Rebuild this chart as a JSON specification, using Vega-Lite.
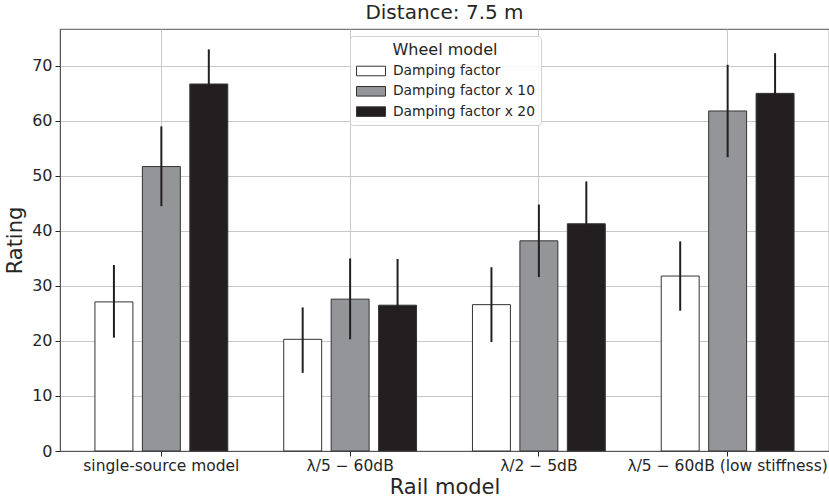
{
  "$schema": "https://vega.github.io/schema/vega-lite/v6.json",
  "width": 769,
  "height": 422,
  "autosize": {"type": "none"},
  "padding": {"left": 60, "top": 29, "right": 0, "bottom": 48},
  "config": {
    "font": "DejaVu Sans",
    "view": {"stroke": "#777777", "strokeWidth": 1.2},
    "axis": {"labelColor": "#262626", "titleColor": "#262626", "tickColor": "#262626", "domainColor": "#555555", "gridColor": "#c8c8c8", "gridWidth": 1, "titleFontWeight": "normal"}
  },
  "title": {"text": "Distance: 7.5 m", "fontSize": 20, "fontWeight": "normal", "color": "#262626", "anchor": "middle", "offset": 6},
  "data": {
    "values": [
      {"rail": "single-source model", "wheel": "Damping factor", "rating": 27.1, "lo": 20.6, "hi": 33.8},
      {"rail": "single-source model", "wheel": "Damping factor x 10", "rating": 51.7, "lo": 44.5, "hi": 59.0},
      {"rail": "single-source model", "wheel": "Damping factor x 20", "rating": 66.7, "lo": 60.4, "hi": 73.0},
      {"rail": "λ/5 − 60dB", "wheel": "Damping factor", "rating": 20.3, "lo": 14.2, "hi": 26.1},
      {"rail": "λ/5 − 60dB", "wheel": "Damping factor x 10", "rating": 27.6, "lo": 20.3, "hi": 35.0},
      {"rail": "λ/5 − 60dB", "wheel": "Damping factor x 20", "rating": 26.5, "lo": 18.1, "hi": 34.9},
      {"rail": "λ/2 − 5dB", "wheel": "Damping factor", "rating": 26.6, "lo": 19.8, "hi": 33.4},
      {"rail": "λ/2 − 5dB", "wheel": "Damping factor x 10", "rating": 38.2, "lo": 31.6, "hi": 44.8},
      {"rail": "λ/2 − 5dB", "wheel": "Damping factor x 20", "rating": 41.3, "lo": 33.6, "hi": 49.0},
      {"rail": "λ/5 − 60dB (low stiffness)", "wheel": "Damping factor", "rating": 31.8, "lo": 25.5, "hi": 38.1},
      {"rail": "λ/5 − 60dB (low stiffness)", "wheel": "Damping factor x 10", "rating": 61.8, "lo": 53.4, "hi": 70.2},
      {"rail": "λ/5 − 60dB (low stiffness)", "wheel": "Damping factor x 20", "rating": 65.0, "lo": 57.7, "hi": 72.3}
    ]
  },
  "encoding": {
    "x": {
      "field": "rail", "type": "nominal",
      "sort": ["single-source model", "λ/5 − 60dB", "λ/2 − 5dB", "λ/5 − 60dB (low stiffness)"],
      "scale": {"paddingInner": 0.246, "paddingOuter": 0.16},
      "axis": {"title": "Rail model", "titleFontSize": 21, "titlePadding": 3, "labelFontSize": 15.5, "labelAngle": 0, "labelPadding": 2, "tickSize": 5, "grid": true, "bandPosition": 0.5, "domain": true, "labelLimit": 400}
    },
    "xOffset": {
      "field": "wheel", "type": "nominal",
      "sort": ["Damping factor", "Damping factor x 10", "Damping factor x 20"],
      "scale": {"paddingInner": 0.2, "paddingOuter": 0.1}
    }
  },
  "layer": [
    {
      "mark": {"type": "bar", "stroke": "#333333", "strokeWidth": 1},
      "encoding": {
        "y": {
          "field": "rating", "type": "quantitative",
          "scale": {"domain": [0, 76.7], "nice": false},
          "axis": {"title": "Rating", "titleFontSize": 21, "titlePadding": 6, "labelFontSize": 16, "labelPadding": 3, "tickSize": 5, "values": [0, 10, 20, 30, 40, 50, 60, 70], "grid": true}
        },
        "fill": {
          "field": "wheel", "type": "nominal",
          "sort": ["Damping factor", "Damping factor x 10", "Damping factor x 20"],
          "scale": {"range": ["#ffffff", "#939598", "#231f20"]},
          "legend": {
            "title": "Wheel model", "orient": "none", "legendX": 290, "legendY": 7,
            "titleFontSize": 16, "titleFontWeight": "normal", "titleColor": "#262626", "titleAnchor": "middle", "titlePadding": 5,
            "labelFontSize": 13.8, "labelColor": "#262626", "labelOffset": 14,
            "symbolType": "M-2,-0.66H2V0.66H-2Z", "symbolSize": 210, "symbolOffset": 7, "symbolStrokeColor": "#333333", "symbolStrokeWidth": 1,
            "rowPadding": 5.3, "padding": 6,
            "fillColor": "rgba(255,255,255,0.85)", "strokeColor": "#d0d0d0", "cornerRadius": 3
          }
        }
      }
    },
    {
      "mark": {"type": "rule", "strokeWidth": 2, "color": "#231f20"},
      "encoding": {
        "y": {"field": "lo", "type": "quantitative"},
        "y2": {"field": "hi"}
      }
    }
  ]
}
